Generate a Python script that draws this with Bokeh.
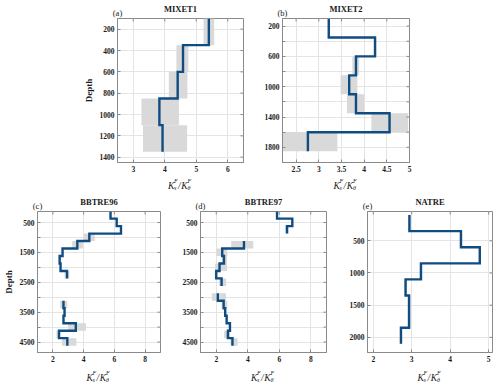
import math
from bokeh.plotting import figure
from bokeh.models import Range1d, FixedTicker, NumeralTickFormatter, LinearAxis
from bokeh.layouts import row, column
from bokeh.core.properties import value
from bokeh.embed import file_html
from bokeh.resources import INLINE

# ---------------- data ----------------
# MIXET1
mx1_top = [100, 350, 600, 850, 1100]
mx1_bot = [350, 600, 850, 1100, 1350]
mx1_val = [5.40, 4.58, 4.41, 3.83, 3.93]
mx1_lo = [5.23, 4.37, 4.13, 3.26, 3.31]
mx1_hi = [5.57, 4.75, 4.72, 4.45, 4.71]

# MIXET2
mx2_top = [100, 350, 600, 850, 1100, 1350, 1600]
mx2_bot = [350, 600, 850, 1100, 1350, 1600, 1850]
mx2_val = [3.22, 4.24, 3.82, 3.67, 3.82, 4.56, 2.76]
mx2_lo = [3.20, 4.22, 3.74, 3.48, 3.62, 4.16, 2.18]
mx2_hi = [3.25, 4.27, 3.89, 3.85, 4.00, 4.97, 3.41]

# BBTRE96
b96_top = [120, 370, 620, 870, 1120, 1370, 1620, 1870, 2120, 3120, 3370, 3620, 3870, 4120, 4370]
b96_bot = [370, 620, 870, 1120, 1370, 1620, 1870, 2120, 2370, 3370, 3620, 3870, 4120, 4370, 4620]
b96_val = [5.75, 6.15, 6.43, 4.37, 3.59, 2.63, 2.44, 2.50, 2.92, 2.69, 2.76, 2.69, 3.49, 2.40, 2.94]
b96_lo = [5.72, 6.12, 6.40, 4.01, 3.26, 2.60, 2.40, 2.47, 2.76, 2.48, 2.73, 2.66, 3.00, 2.23, 2.59]
b96_hi = [5.78, 6.18, 6.46, 4.73, 3.95, 2.66, 2.48, 2.53, 3.07, 2.94, 2.79, 2.72, 4.15, 2.48, 3.53]

# BBTRE97
b97_top = [120, 370, 620, 1120, 1370, 1620, 1870, 2120, 2370, 2870, 3120, 3370, 3620, 3870, 4120, 4370]
b97_bot = [370, 620, 870, 1370, 1620, 1870, 2120, 2370, 2620, 3120, 3370, 3620, 3870, 4120, 4370, 4620]
b97_val = [5.86, 6.83, 6.49, 3.76, 2.38, 2.49, 2.21, 2.00, 2.34, 2.10, 2.47, 2.57, 2.66, 2.87, 2.74, 3.03]
b97_lo = [5.83, 6.80, 6.40, 2.95, 2.02, 2.35, 1.93, 1.90, 2.18, 1.72, 2.34, 2.54, 2.63, 2.84, 2.50, 2.90]
b97_hi = [5.89, 6.86, 6.60, 4.35, 2.70, 2.68, 2.69, 2.05, 2.63, 2.62, 2.70, 2.60, 2.69, 2.90, 2.88, 3.36]

# NATRE
na_top = [100, 350, 600, 850, 1100, 1350, 1600, 1850]
na_bot = [350, 600, 850, 1100, 1350, 1600, 1850, 2100]
na_val = [2.94, 4.28, 4.77, 3.24, 2.84, 2.93, 2.93, 2.72]
na_lo = [2.91, 4.25, 4.74, 3.21, 2.81, 2.90, 2.90, 2.69]
na_hi = [2.97, 4.31, 4.80, 3.27, 2.87, 2.97, 2.97, 2.75]

# axis settings
a_xticks = [3, 4, 5, 6]
a_yticks = [200, 400, 600, 800, 1000, 1200, 1400]
b_xticks = [2.5, 3, 3.5, 4, 4.5, 5]
b_yticks = [200, 400, 600, 800, 1000, 1200, 1400, 1600, 1800, 2000]
b_yhide = [400, 800, 1200, 1600, 2000]
c_xticks = [2, 4, 6, 8]
c_yticks = [500, 1000, 1500, 2000, 2500, 3000, 3500, 4000, 4500]
c_yhide = [1000, 2000, 3000, 4000]
e_xticks = [2, 3, 4, 5]
e_yticks = [500, 1000, 1500, 2000]

FONT = "Liberation Serif"
AX = "#8a8a8a"
LINE = "#0f4c81"
SHADE = "#d9d9d9"
GRID = "#e4e4e4"
TXT = "#1a1a1a"


def style_axis(ax, ticker):
    ax.ticker = ticker
    ax.axis_line_color = AX
    ax.major_tick_line_color = AX
    ax.major_tick_in = 3
    ax.major_tick_out = 0
    ax.minor_tick_line_color = None
    ax.major_label_text_font = FONT
    ax.major_label_text_font_style = "bold"
    ax.major_label_text_color = TXT
    ax.major_label_text_font_size = "7.5px"
    ax.major_label_standoff = 3


def strip(w, h, xr, bl, br):
    s = figure(width=w, height=h, x_range=Range1d(xr[0], xr[1]), y_range=Range1d(0, h),
               output_backend="svg", toolbar_location=None, x_axis_type=None,
               y_axis_type=None, min_border_left=bl, min_border_right=br,
               min_border_top=0, min_border_bottom=0, title=None)
    s.outline_line_color = None
    s.grid.visible = False
    return s


def panel(title, tag, tops, bots, vals, lo, hi, xr, yr, xt, yt, yhide,
          w, bl, br, bt, fh, bb, depth, foot_h, k_base):
    p = figure(width=w, height=bt + fh + bb, x_range=Range1d(xr[0], xr[1]),
               y_range=Range1d(yr[1], yr[0]), output_backend="svg",
               toolbar_location=None, min_border_left=bl, min_border_right=br,
               min_border_top=bt, min_border_bottom=bb, title=None)
    p.outline_line_color = AX
    p.grid.grid_line_color = GRID

    p.quad(left=lo, right=hi, top=tops, bottom=bots, fill_color=SHADE, line_color=None)

    xs, ys = [], []
    cx, cy = [], []
    for i in range(len(vals)):
        if i > 0 and tops[i] != bots[i - 1]:
            xs.append(cx); ys.append(cy)
            cx, cy = [], []
        cx += [vals[i], vals[i]]
        cy += [tops[i], bots[i]]
    xs.append(cx); ys.append(cy)
    p.multi_line(xs=xs, ys=ys, line_color=LINE, line_width=2.4, line_join="miter")

    style_axis(p.xaxis[0], FixedTicker(ticks=xt))
    p.xaxis[0].formatter = NumeralTickFormatter(format="0.[0]")
    style_axis(p.yaxis[0], FixedTicker(ticks=yt))
    p.yaxis[0].major_label_overrides = {v: "" for v in yhide}
    p.xgrid.ticker = FixedTicker(ticks=xt)
    p.ygrid.ticker = FixedTicker(ticks=yt)

    # inward tick marks on the right and top edges (half of each dash lies inside the frame)
    p.scatter(x=[xr[1]] * len(yt), y=yt, marker="dash", size=6, line_color=AX, line_width=1)
    p.scatter(x=xt, y=[yr[0]] * len(xt), marker="dash", angle=math.pi / 2, size=6,
              line_color=AX, line_width=1)

    if depth:
        p.yaxis[0].axis_label = "Depth"
        p.yaxis[0].axis_label_text_font = FONT
        p.yaxis[0].axis_label_text_font_style = "bold"
        p.yaxis[0].axis_label_text_font_size = "9px"
        p.yaxis[0].axis_label_text_color = TXT
        p.yaxis[0].axis_label_standoff = 3

    # panel tag "(a)" as the label of a top axis at the left edge, panel name as its title
    xmid = (xr[0] + xr[1]) / 2.0
    x_tag = xr[0]
    top = LinearAxis(ticker=FixedTicker(ticks=[x_tag]), major_label_overrides={x_tag: tag})
    top.axis_line_color = None
    top.major_tick_line_color = None
    top.minor_tick_line_color = None
    top.major_tick_in = 0
    top.major_tick_out = 0
    top.major_label_standoff = 1
    top.major_label_text_align = "left"
    top.major_label_text_font = FONT
    top.major_label_text_font_size = "8.5px"
    top.major_label_text_color = TXT
    top.axis_label = title
    top.axis_label_text_font = FONT
    top.axis_label_text_font_style = "bold"
    top.axis_label_text_font_size = "8.5px"
    top.axis_label_text_color = TXT
    top.axis_label_standoff = -9
    p.add_layout(top, "above")

    foot = strip(w, foot_h, xr, bl, br)
    parts = [("K", "9.5px", -12.5, 0), ("F", "6px", -6.6, 4.2), ("s", "6px", -6.6, -2.4),
             ("/", "9.5px", -2.6, 0), ("K", "9.5px", 0.8, 0), ("F", "6px", 6.9, 4.2),
             ("\u03b8", "6px", 6.9, -2.4)]
    for t, fs, dx, dy in parts:
        foot.text(x=[xmid], y=[k_base + dy], x_offset=dx, text=[t], text_font=value(FONT),
                  text_font_style="italic", text_font_size=fs, text_color=TXT,
                  text_align="left", text_baseline="alphabetic")
    return column(p, foot, spacing=0)


ca = panel("MIXET1", "(a)", mx1_top, mx1_bot, mx1_val, mx1_lo, mx1_hi,
           (2.5, 6.5), (100, 1450), a_xticks, a_yticks, [],
           255, 117, 12, 15, 147, 12, True, 19, 8)
cb = panel("MIXET2", "(b)", mx2_top, mx2_bot, mx2_val, mx2_lo, mx2_hi,
           (2.2, 5.0), (100, 2000), b_xticks, b_yticks, b_yhide,
           244, 27, 90, 15, 147, 12, False, 19, 8)
cc = panel("BBTRE96", "(c)", b96_top, b96_bot, b96_val, b96_lo, b96_hi,
           (1, 9), (130, 4850), c_xticks, c_yticks, c_yhide,
           172, 34, 12, 13, 146, 14, True, 21, 10)
cd = panel("BBTRE97", "(d)", b97_top, b97_bot, b97_val, b97_lo, b97_hi,
           (1, 9), (130, 4850), c_xticks, c_yticks, c_yhide,
           174, 28, 20, 13, 146, 14, False, 21, 10)
ce = panel("NATRE", "(e)", na_top, na_bot, na_val, na_lo, na_hi,
           (1.85, 5.1), (45, 2235), e_xticks, e_yticks, [],
           153, 19, 7, 13, 146, 14, False, 21, 10)

layout = column(row(ca, cb, spacing=0), row(cc, cd, ce, spacing=0), spacing=0)
open("out.html", "w").write(file_html(layout, INLINE))
